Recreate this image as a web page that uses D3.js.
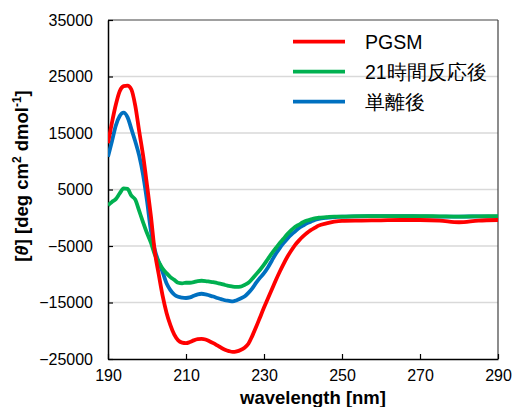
<!DOCTYPE html>
<html><head><meta charset="utf-8">
<script src="https://cdn.jsdelivr.net/npm/d3@7"></script>
<style>
html,body{margin:0;padding:0;background:#fff;}
text{font-family:"Liberation Sans",Arial,sans-serif;}
</style></head>
<body>
<svg id="c" width="514" height="407"></svg>
<script>
const wavelengths = [190,191,192,193,194,195,196,197,198,199,200,201,202,203,204,205,206,207,208,209,210,
  211,212,213,214,215,216,217,218,219,220,221,222,223,224,225,226,227,228,229,230,
  231,232,233,234,235,236,237,238,239,240,241,242,243,244,246,248,250,255,260,265,270,275,280,285,290];
const pgsm = [13200,16800,20000,22400,23300,23400,22700,19800,15300,11000,5800,300,-6000,-10000,-13800,-16800,-19000,-20700,-21700,-22100,-22200,
  -22000,-21700,-21500,-21450,-21550,-21850,-22200,-22600,-23000,-23350,-23600,-23750,-23650,-23400,-23000,-22300,-20900,-19300,-17600,-15900,
  -14300,-12700,-11100,-9600,-8200,-6900,-5800,-4800,-4000,-3300,-2700,-2200,-1800,-1400,-1000,-700,-550,-500,-450,-400,-400,-500,-800,-500,-400];
const reacted21h = [2200,2800,3300,4300,5200,5100,3900,3200,1200,-800,-2700,-4400,-6500,-7800,-9000,-9800,-10500,-11000,-11500,-11600,-11500,
  -11500,-11400,-11200,-11150,-11200,-11300,-11400,-11550,-11700,-11900,-12050,-12200,-12250,-12200,-11900,-11500,-10800,-10000,-9200,-8300,
  -7300,-6300,-5400,-4500,-3700,-2900,-2200,-1600,-1200,-800,-500,-300,-100,0,100,200,200,300,300,300,300,250,200,250,300];
const isolated = [10800,13500,16300,18000,18600,17800,15700,13500,11000,7600,3000,-2300,-5700,-7800,-9600,-11600,-12800,-13600,-14000,-14150,-14200,
  -14100,-13800,-13550,-13450,-13550,-13750,-13950,-14200,-14400,-14600,-14700,-14800,-14600,-14300,-13950,-13300,-12500,-11500,-10600,-9800,
  -8800,-7600,-6400,-5400,-4500,-3700,-3000,-2400,-1800,-1400,-1000,-700,-400,-200,0,100,200,250,300,300,250,200,200,250,200];
const seriesNames = ["PGSM","21時間反応後","単離後"];
const seriesColors = ["#ff0000","#00b050","#0070c0"];
const xTicks = [190,210,230,250,270,290];
const yTicks = [-25000,-15000,-5000,5000,15000,25000,35000];

const svg = d3.select("#c");
const L=108, R=498, T=20, B=359;
const x = d3.scaleLinear().domain([190,290]).range([L,R]);
const y = d3.scaleLinear().domain([-25000,35000]).range([B,T]);

// gridlines
svg.append("g").selectAll("line").data(yTicks.filter(v=>v>-25000 && v<35000)).join("line")
  .attr("x1",L).attr("x2",R).attr("y1",d=>y(d)).attr("y2",d=>y(d))
  .attr("stroke","#d9d9d9").attr("stroke-width",1.5);

// top and right border
svg.append("line").attr("x1",L).attr("x2",R).attr("y1",T).attr("y2",T).attr("stroke","#808080").attr("stroke-width",1.5);
svg.append("line").attr("x1",R).attr("x2",R).attr("y1",T).attr("y2",B).attr("stroke","#404040").attr("stroke-width",1.2);

// axes
const xAxis = d3.axisBottom(x).tickValues(xTicks).tickSizeInner(-5).tickSizeOuter(0).tickPadding(11);
const gx = svg.append("g").attr("transform",`translate(0,${B})`).call(xAxis);
gx.select(".domain").attr("stroke","#000").attr("stroke-width",1.5);
gx.selectAll(".tick line").attr("stroke","#000").attr("stroke-width",1.2);
gx.selectAll("text").attr("font-size",16).attr("fill","#000").attr("font-family","Liberation Sans, Arial, sans-serif");

const yAxis = d3.axisLeft(y).tickValues(yTicks).tickSizeInner(-5).tickSizeOuter(0).tickPadding(15).tickFormat(d3.format("d"));
const gy = svg.append("g").attr("transform",`translate(${L},0)`).call(yAxis);
gy.select(".domain").attr("stroke","#000").attr("stroke-width",1.5);
gy.selectAll(".tick line").attr("stroke","#000").attr("stroke-width",1.2);
gy.selectAll("text").attr("font-size",16).attr("fill","#000").attr("font-family","Liberation Sans, Arial, sans-serif");

// lines
const allSeries = [pgsm, reacted21h, isolated];
const line = d3.line().x((d,i)=>x(wavelengths[i])).y(d=>y(d)).curve(d3.curveMonotoneX);
svg.append("clipPath").attr("id","pc").append("rect").attr("x",L).attr("y",T).attr("width",R-L).attr("height",B-T);
[0,1,2].reverse().forEach(k=>{
  svg.append("path").datum(allSeries[k]).attr("d",line)
    .attr("fill","none").attr("stroke",seriesColors[k]).attr("stroke-width",3.8)
    .attr("stroke-linejoin","round").attr("clip-path","url(#pc)");
});

// legend
const lg = svg.append("g");
seriesNames.forEach((n,i)=>{
  const yy = 41.7 + i*30;
  lg.append("line").attr("x1",293).attr("x2",345).attr("y1",yy).attr("y2",yy)
    .attr("stroke",seriesColors[i]).attr("stroke-width",3.8);
  lg.append("text").attr("x",365).attr("y",yy+7).attr("font-size",19.5).attr("fill","#000")
    .attr("font-family","Liberation Sans, 'Noto Sans CJK JP', sans-serif").text(n);
});

// x title
svg.append("text").attr("x",313).attr("y",404).attr("text-anchor","middle")
  .attr("font-size",18.5).attr("font-weight","bold").attr("fill","#000").text("wavelength [nm]");

// y title
const yt = svg.append("text").attr("transform","translate(28,176) rotate(-90)").attr("text-anchor","middle")
  .attr("font-size",18.5).attr("font-weight","bold").attr("fill","#000");
yt.append("tspan").text("[");
yt.append("tspan").attr("font-style","italic").text("θ");
yt.append("tspan").text("] [deg cm");
yt.append("tspan").attr("font-size",12).attr("dy",-7).text("2");
yt.append("tspan").attr("dy",7).text(" dmol");
yt.append("tspan").attr("font-size",12).attr("dy",-7).text("-1");
yt.append("tspan").attr("dy",7).text("]");
</script>
</body></html>
